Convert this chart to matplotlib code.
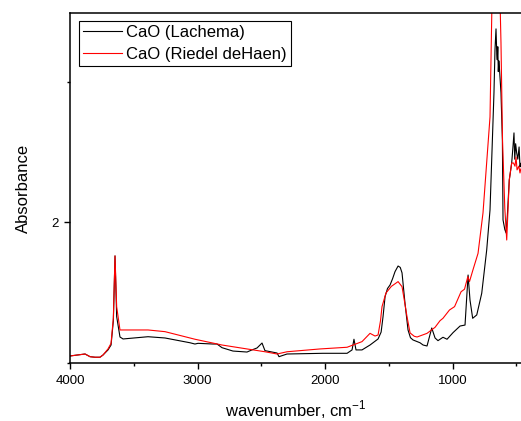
import matplotlib
matplotlib.use("Agg")
import matplotlib.pyplot as plt

plt.rcParams['font.family'] = ['Liberation Sans', 'DejaVu Sans']

# === data (wavenumber cm-1, absorbance) ===
wn_lachema = [4000, 3882, 3843, 3804, 3765, 3741, 3702, 3678, 3660, 3647, 3634, 3608,
              3584, 3388, 3255, 3059, 3020, 2996, 2878, 2847, 2808, 2722, 2643, 2612,
              2573, 2533, 2494, 2471, 2376, 2361, 2298, 2016, 1827, 1788, 1773, 1757,
              1710, 1647, 1584, 1560, 1545, 1529, 1510, 1490, 1470, 1451, 1427, 1410,
              1396, 1373, 1349, 1330, 1310, 1255, 1231, 1200, 1163, 1137, 1114, 1075,
              1043, 996, 941, 902, 878, 863, 842, 810, 771, 732, 706, 675, 667, 659,
              653, 649, 645, 641, 637, 633, 620, 609, 604, 590, 580, 570, 555, 536,
              525, 518, 512, 505, 497, 488, 478, 471, 465]
abs_lachema = [1.050, 1.064, 1.045, 1.041, 1.041, 1.057, 1.093, 1.128, 1.30, 1.762, 1.330, 1.185,
               1.171, 1.187, 1.178, 1.144, 1.135, 1.140, 1.135, 1.135, 1.109, 1.085, 1.080, 1.078,
               1.093, 1.107, 1.142, 1.088, 1.071, 1.045, 1.064, 1.069, 1.069, 1.093, 1.169, 1.093,
               1.093, 1.128, 1.171, 1.22, 1.33, 1.472, 1.53, 1.555, 1.60, 1.650, 1.690, 1.68,
               1.641, 1.427, 1.235, 1.18, 1.164, 1.144, 1.128, 1.121, 1.249, 1.178, 1.159, 1.183,
               1.169, 1.216, 1.263, 1.270, 1.626, 1.448, 1.318, 1.342, 1.496, 1.804, 2.089, 2.922,
               3.228, 3.377, 3.20, 3.157, 3.25, 3.073, 3.15, 3.109, 2.922, 2.587, 2.018, 1.95,
               1.925, 2.05, 2.302, 2.423, 2.55, 2.637, 2.45, 2.56, 2.495, 2.45, 2.537, 2.395, 2.42]

wn_riedel = [4000, 3882, 3843, 3804, 3765, 3741, 3702, 3678, 3660, 3647, 3634, 3608,
             3388, 3255, 3059, 3020, 2808, 2612, 2471, 2376, 2298, 2039, 1827, 1710,
             1647, 1608, 1584, 1565, 1553, 1522, 1480, 1427, 1396, 1375, 1357, 1333,
             1300, 1278, 1200, 1137, 1098, 1075, 1024, 984, 933, 906, 880, 867, 840,
             800, 761, 706, 690, 660, 628, 620, 608, 590, 575, 555, 536, 522, 510, 502,
             494, 480, 471, 465]
abs_riedel = [1.050, 1.064, 1.045, 1.041, 1.041, 1.057, 1.100, 1.140, 1.32, 1.762, 1.40, 1.235,
              1.235, 1.223, 1.178, 1.169, 1.128, 1.100, 1.080, 1.064, 1.080, 1.100, 1.112, 1.152,
              1.211, 1.192, 1.199, 1.30, 1.401, 1.498, 1.545, 1.579, 1.543, 1.43, 1.330, 1.214,
              1.19, 1.185, 1.211, 1.254, 1.301, 1.318, 1.377, 1.401, 1.507, 1.525, 1.614, 1.579,
              1.662, 1.78, 2.068, 2.751, 3.6, 3.9, 3.6, 3.278, 2.587, 2.1, 1.875, 2.302, 2.423,
              2.423, 2.40, 2.466, 2.374, 2.40, 2.352, 2.38]

# === plot ===
fig = plt.figure(figsize=(5.21, 4.21), dpi=100)
ax = fig.add_axes([70 / 521, 1 - 363 / 421, 1 - 70 / 521, (363 - 13) / 421])

ax.plot(wn_lachema, abs_lachema, color='black', lw=0.8, label='CaO (Lachema)')
ax.plot(wn_riedel, abs_riedel, color='red', lw=0.8, label='CaO (Riedel deHaen)')

ax.set_xlim(4000, 463)
ax.set_ylim(1, 3.49)
ax.set_xticks([4000, 3000, 2000, 1000])
ax.set_xticks([3500, 2500, 1500, 500], minor=True)
ax.set_yticks([2])
ax.set_yticks([1, 3], minor=True)
ax.tick_params(which='major', direction='out', length=4.5, width=1, labelsize=9.5, pad=4)
ax.tick_params(which='minor', direction='out', length=2.5, width=1)
ax.spines['right'].set_visible(False)
for s in ['left', 'top', 'bottom']:
    ax.spines[s].set_linewidth(1.1)

ax.set_xlabel('wavenumber, cm$^{\\mathregular{-1}}$', fontsize=12, labelpad=8)
ax.set_ylabel('Absorbance', fontsize=12, labelpad=14)

leg = ax.legend(loc='upper left', bbox_to_anchor=(9 / 451, 1 - 8 / 350), fontsize=12,
                frameon=True, fancybox=False, edgecolor='black', framealpha=1,
                handlelength=2.3, handletextpad=0.3, labelspacing=0.4, borderpad=0.25,
                borderaxespad=0)
leg.get_frame().set_linewidth(0.8)

fig.savefig('out.png', dpi=100)
